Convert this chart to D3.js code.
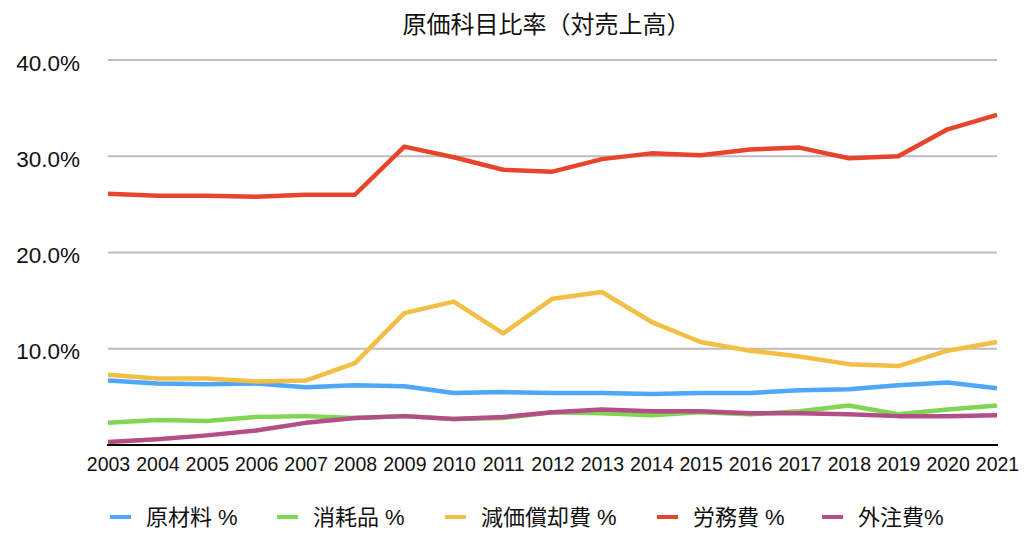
<!DOCTYPE html>
<html>
<head>
<meta charset="utf-8">
<script src="https://cdn.jsdelivr.net/npm/d3@7"></script>
<style>
  body { margin: 0; background: #fff; }
  text { font-family: "Liberation Sans", "Noto Sans CJK JP", sans-serif; fill: #111; }
</style>
</head>
<body>
<div class="chart"></div>
<script>
var svgWidth = 1024;
var svgHeight = 534;

// data (percent of sales)
var years = ["2003","2004","2005","2006","2007","2008","2009","2010","2011","2012",
             "2013","2014","2015","2016","2017","2018","2019","2020","2021"];
var rawMaterial = [6.7,6.4,6.3,6.4,6.0,6.2,6.1,5.4,5.5,5.4,5.4,5.3,5.4,5.4,5.7,5.8,6.2,6.5,5.9];
var consumables = [2.3,2.6,2.5,2.9,3.0,2.8,3.0,2.7,2.8,3.4,3.3,3.1,3.4,3.2,3.5,4.1,3.2,3.7,4.1];
var depreciation = [7.3,6.9,6.9,6.6,6.7,8.5,13.7,14.9,11.6,15.2,15.9,12.8,10.7,9.8,9.2,8.4,8.2,9.8,10.7];
var labor = [26.1,25.9,25.9,25.8,26.0,26.0,31.0,29.9,28.6,28.4,29.7,30.3,30.1,30.7,30.9,29.8,30.0,32.8,34.3];
var outsourcing = [0.3,0.6,1.0,1.5,2.3,2.8,3.0,2.7,2.9,3.4,3.7,3.5,3.5,3.3,3.3,3.2,3.0,3.0,3.1];
var yTicks = [10, 20, 30, 40];

var seriesNames = ["原材料 %", "消耗品 %", "減価償却費 %", "労務費 %", "外注費%"];
var seriesColors = ["#4ea7f8", "#80d553", "#f2be43", "#e8442b", "#b44e86"];
var seriesData = [rawMaterial, consumables, depreciation, labor, outsourcing];

var margin = { top: 60, right: 27, bottom: 89, left: 108 };
var width = svgWidth - margin.left - margin.right;
var height = svgHeight - margin.top - margin.bottom;

var svg = d3.select(".chart")
  .append("svg")
  .attr("width", svgWidth)
  .attr("height", svgHeight);

var chartGroup = svg.append("g")
  .attr("transform", `translate(${margin.left}, ${margin.top})`);

var xScale = d3.scalePoint()
  .domain(years)
  .range([0, width]);

var yScale = d3.scaleLinear()
  .domain([0, 40])
  .range([height, 0]);

// title
svg.append("text")
  .attr("x", margin.left + width / 2 - 6)
  .attr("y", 33)
  .attr("text-anchor", "middle")
  .style("font-size", "24px")
  .text("原価科目比率（対売上高）");

// gridlines
chartGroup.selectAll(".grid")
  .data(yTicks)
  .enter()
  .append("line")
  .attr("x1", 0)
  .attr("x2", width)
  .attr("y1", d => yScale(d))
  .attr("y2", d => yScale(d))
  .attr("stroke", "#bdbdbd")
  .attr("stroke-width", 2);

// y labels
var leftAxis = d3.axisLeft(yScale)
  .tickValues(yTicks)
  .tickSize(0)
  .tickPadding(28)
  .tickFormat(d => d.toFixed(1) + "%");

var yAxis = chartGroup.append("g").call(leftAxis);
yAxis.select(".domain").remove();
yAxis.selectAll("text")
  .style("font-size", "22.5px")
  .attr("fill", "#111")
  .attr("dy", "0.45em");

// x axis
var bottomAxis = d3.axisBottom(xScale)
  .tickSize(0)
  .tickPadding(12);

var xAxis = chartGroup.append("g")
  .attr("transform", `translate(0, ${height})`)
  .call(bottomAxis);
xAxis.select(".domain")
  .attr("stroke", "#000")
  .attr("stroke-width", 2)
  .attr("d", `M-1,0H${width + 1}`);
xAxis.selectAll("text")
  .style("font-size", "19.5px")
  .attr("fill", "#111");

// lines
var line = d3.line()
  .x((d, i) => xScale(years[i]))
  .y(d => yScale(d));

chartGroup.selectAll(".series")
  .data(seriesData)
  .enter()
  .append("path")
  .attr("d", d => line(d))
  .attr("fill", "none")
  .attr("stroke", (d, i) => seriesColors[i])
  .attr("stroke-width", 4.5)
  .attr("stroke-linejoin", "round");

// legend
var legendX = [110, 277, 445, 657, 822];
var legendGroup = svg.append("g")
  .attr("transform", "translate(0, 517)");

var legendItems = legendGroup.selectAll(".legend")
  .data(seriesNames)
  .enter()
  .append("g")
  .attr("transform", (d, i) => `translate(${legendX[i]}, 0)`);

legendItems.append("line")
  .attr("x1", 0)
  .attr("x2", 21)
  .attr("stroke", (d, i) => seriesColors[i])
  .attr("stroke-width", 4);

legendItems.append("text")
  .attr("x", 36)
  .attr("dy", "0.36em")
  .style("font-size", "22px")
  .text(d => d);
</script>
</body>
</html>
